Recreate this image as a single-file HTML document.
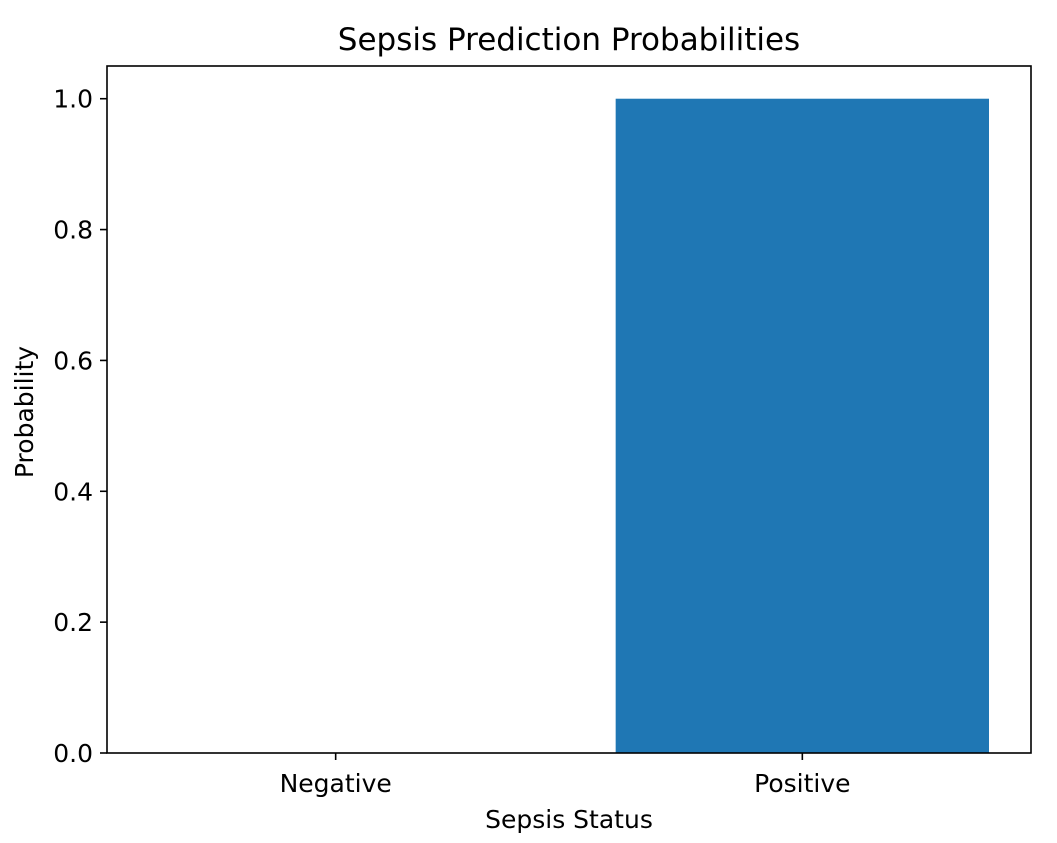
<!DOCTYPE html>
<html><head><meta charset="utf-8"><style>
body{margin:0;background:#fff;}
svg text{font-family:"DejaVu Sans","Liberation Sans",sans-serif;fill:#000;}
</style></head><body>
<svg id="chart" width="1057" height="838" viewBox="0 0 1057 838" xmlns="http://www.w3.org/2000/svg">
<rect width="1057" height="838" fill="#fff"/>
<g id="plot"></g>
<rect x="107" y="66" width="924" height="687" fill="none" stroke="#000" stroke-width="1.6"/>
<text x="569" y="50" font-size="31" text-anchor="middle">Sepsis Prediction Probabilities</text>
<text x="569" y="828" font-size="25" text-anchor="middle">Sepsis Status</text>
<text transform="translate(33,412) rotate(-90)" font-size="25" text-anchor="middle">Probability</text>
</svg>
<script>
const categories=["Negative","Positive"];
const values=[0.0,1.0];
const yTicks=[0,0.2,0.4,0.6,0.8,1.0];
const yTickLabels=["0.0","0.2","0.4","0.6","0.8","1.0"];
const L=107,R=1031,T=66,B=753;
const xMin=-0.49,xMax=1.49,yMin=0,yMax=1.05;
const xs=v=>L+(v-xMin)/(xMax-xMin)*(R-L);
const ys=v=>B-(v-yMin)/(yMax-yMin)*(B-T);
const ns="http://www.w3.org/2000/svg";
const g=document.getElementById('plot');
function mk(t,a){const e=document.createElementNS(ns,t);for(const k in a)e.setAttribute(k,a[k]);g.appendChild(e);return e;}
categories.forEach((c,i)=>{
  const b=mk('rect',{x:xs(i-0.4),y:ys(values[i]),width:xs(i+0.4)-xs(i-0.4),height:ys(0)-ys(values[i]),fill:'#1f77b4'});
  
  
  const tk=mk('line',{x1:xs(i),x2:xs(i),y1:B,y2:B+7,stroke:'#000','stroke-width':1.6});
  
  
  const tl=mk('text',{x:xs(i),y:B+39,'font-size':25,'text-anchor':'middle'});
  tl.textContent=c;
  
  
});
yTicks.forEach((v,i)=>{
  const tk=mk('line',{x1:L-7,x2:L,y1:ys(v),y2:ys(v),stroke:'#000','stroke-width':1.6});
  
  
  const tl=mk('text',{x:L-14,y:ys(v)+9,'font-size':25,'text-anchor':'end'});
  tl.textContent=yTickLabels[i];
  
  
});
</script>
</body></html>
